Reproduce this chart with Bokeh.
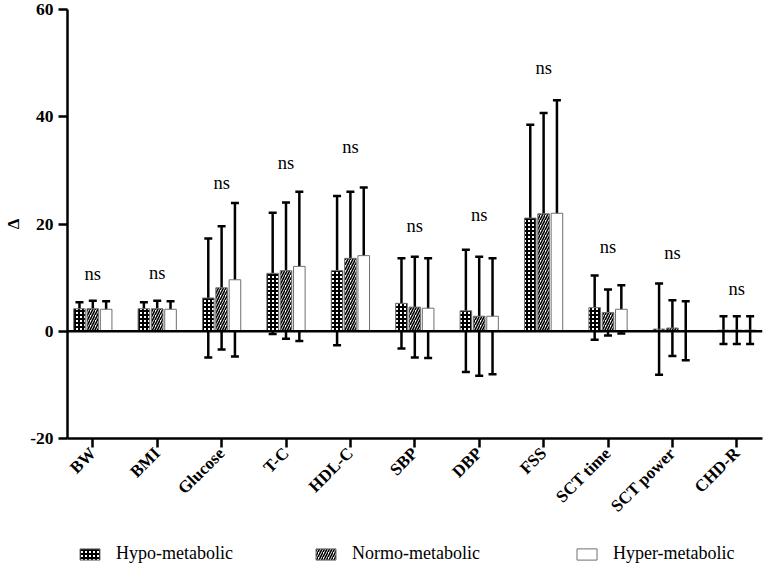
import math
from bokeh.plotting import figure
from bokeh.layouts import column
from bokeh.models import (ColumnDataSource, Range1d, FixedTicker, Whisker, TeeHead,
                          Span, Legend, LegendItem)
from bokeh.core.properties import value
from bokeh.embed import file_html
from bokeh.resources import INLINE

categories = ["BW", "BMI", "Glucose", "T-C", "HDL-C", "SBP", "DBP", "FSS",
              "SCT time", "SCT power", "CHD-R"]
hypo_mean = [4.2, 4.2, 6.2, 10.8, 11.3, 5.2, 3.8, 21.1, 4.4, 0.4, 0.2]
hypo_sd = [1.2, 1.2, 11.1, 11.3, 13.9, 8.4, 11.4, 17.4, 6.0, 8.5, 2.6]
normo_mean = [4.2, 4.2, 8.1, 11.3, 13.6, 4.5, 2.8, 21.9, 3.5, 0.6, 0.2]
normo_sd = [1.5, 1.5, 11.5, 12.7, 12.4, 9.4, 11.1, 18.8, 4.3, 5.2, 2.6]
hyper_mean = [4.1, 4.1, 9.6, 12.1, 14.1, 4.3, 2.8, 22.0, 4.1, 0.1, 0.2]
hyper_sd = [1.5, 1.5, 14.3, 13.9, 12.7, 9.3, 10.8, 21.1, 4.5, 5.5, 2.6]
ns_label = ["ns"] * len(categories)
ns_y = [10.6, 10.9, 27.6, 31.3, 34.4, 19.6, 21.6, 49.1, 15.7, 14.6, 7.8]
y_ticks = [-20, 0, 20, 40, 60]
y_tick_labels = ["-20", "0", "20", "40", "60"]
series_names = ["Hypo-metabolic", "Normo-metabolic", "Hyper-metabolic"]

SERIF = "Liberation Serif"
idx = list(range(len(categories)))
offsets = [-0.207, 0.0, 0.207]
bar_w = 0.18

p = figure(width=765, height=530, output_backend="svg", toolbar_location=None,
           x_range=Range1d(-0.393, 10.399), y_range=Range1d(-20, 60),
           min_border_left=67, min_border_right=3, min_border_top=9,
           min_border_bottom=92)
p.outline_line_color = None
p.xgrid.visible = False
p.ygrid.visible = False

styles = [
    dict(fill_color="white", hatch_pattern="cross", hatch_color="black",
         hatch_scale=4, hatch_weight=2),
    dict(fill_color="white", hatch_pattern="right_diagonal_line", hatch_color="black",
         hatch_scale=5, hatch_weight=1.6),
    dict(fill_color="white"),
]
means = [hypo_mean, normo_mean, hyper_mean]
sds = [hypo_sd, normo_sd, hyper_sd]
sources = []
for k in range(3):
    xs = [i + offsets[k] for i in idx]
    src = ColumnDataSource(dict(
        x=xs, top=means[k],
        upper=[m + s for m, s in zip(means[k], sds[k])],
        lower=[m - s for m, s in zip(means[k], sds[k])]))
    sources.append(src)
    p.vbar(x="x", top="top", bottom=0, width=bar_w, source=src,
           line_color="#707070", line_width=1, **styles[k])
    w = Whisker(base="x", upper="upper", lower="lower", source=src,
                line_color="black", line_width=2.5,
                upper_head=TeeHead(size=8, line_width=2.5, line_color="black"),
                lower_head=TeeHead(size=8, line_width=2.5, line_color="black"))
    p.add_layout(w)

p.add_layout(Span(location=0, dimension="width", line_color="black", line_width=2.5))

ns_src = ColumnDataSource(dict(x=idx, y=ns_y, t=ns_label))
p.text(x="x", y="y", text="t", source=ns_src, text_align="center",
       text_baseline="middle", text_font=value(SERIF), text_font_size="18.5px",
       text_color="black")

xa = p.xaxis[0]
xa.ticker = FixedTicker(ticks=idx)
xa.major_label_overrides = {i: c for i, c in zip(idx, categories)}
xa.major_label_orientation = math.pi / 4
xa.major_label_text_font = SERIF
xa.major_label_text_font_style = "bold"
xa.major_label_text_font_size = "17px"
xa.major_label_text_color = "black"
xa.major_label_standoff = 3
xa.axis_line_width = 2.5
xa.axis_line_color = "black"
xa.major_tick_line_width = 2.5
xa.major_tick_out = 9
xa.major_tick_in = 0
xa.minor_tick_line_color = None

ya = p.yaxis[0]
ya.ticker = FixedTicker(ticks=y_ticks)
ya.major_label_overrides = {t: s for t, s in zip(y_ticks, y_tick_labels)}
ya.major_label_text_font = SERIF
ya.major_label_text_font_style = "bold"
ya.major_label_text_font_size = "17.5px"
ya.major_label_text_color = "black"
ya.major_label_standoff = 5
ya.axis_line_width = 2.5
ya.axis_line_color = "black"
ya.major_tick_line_width = 2.5
ya.major_tick_out = 9
ya.major_tick_in = 0
ya.minor_tick_line_color = None
ya.axis_label = "Δ"
ya.axis_label_text_font = SERIF
ya.axis_label_text_font_style = "bold"
ya.axis_label_text_font_size = "17px"
ya.axis_label_text_color = "black"
ya.axis_label_standoff = 4

# legend strip below the chart (bars lie outside its visible y range)
pl = figure(width=765, height=36, output_backend="svg", toolbar_location=None,
            x_range=Range1d(-0.393, 10.399), y_range=Range1d(100, 101),
            x_axis_location=None, y_axis_location=None,
            min_border_left=0, min_border_right=0, min_border_top=0,
            min_border_bottom=0)
pl.outline_line_color = None
pl.xgrid.visible = False
pl.ygrid.visible = False
legend_x = [10, 246, 507]
for k in range(3):
    r = pl.vbar(x="x", top="top", bottom=0, width=bar_w, source=sources[k],
                line_color="#707070", line_width=1, **styles[k])
    lg = Legend(items=[LegendItem(label=series_names[k], renderers=[r])],
                location=(legend_x[k], 2), orientation="horizontal",
                padding=0, margin=0, border_line_color=None,
                background_fill_alpha=0, glyph_width=25, glyph_height=14,
                label_standoff=14, label_text_font=SERIF,
                label_text_font_size="18px", label_text_color="black")
    pl.add_layout(lg, "center")

layout = column(p, pl, spacing=0)
open("out.html", "w").write(file_html(layout, INLINE))
